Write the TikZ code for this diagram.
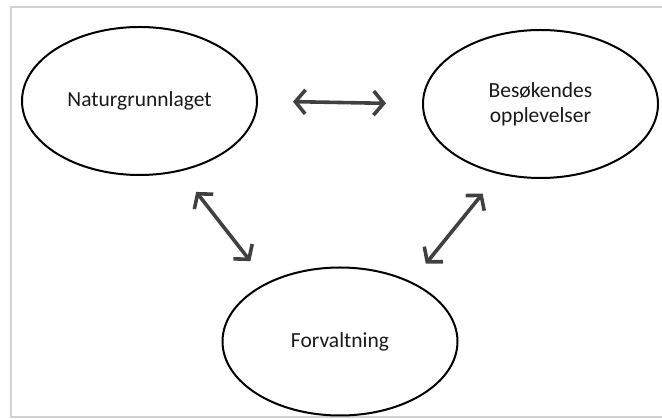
\documentclass[tikz,border=0pt]{standalone}
\usepackage{fontspec}
\setmainfont{Carlito}
\usetikzlibrary{arrows.meta, positioning, shapes.geometric, calc}

\tikzset{
  topic/.style={ellipse, draw, line width=2pt, minimum width=235pt, minimum height=148pt,
    inner sep=0pt, align=center, font=\fontsize{21.5}{25}\selectfont, text=black!90},
  link/.style={{Straight Barb[length=10pt,width=24pt]}-{Straight Barb[length=10pt,width=24pt]},
    line width=3.6pt, draw=black!75},
}

\begin{document}
\begin{tikzpicture}[x=1pt, y=-1pt]
				\useasboundingbox (0,0) rectangle (662,419);
				\draw[black!18, line width=2pt] (11,7) rectangle (664,417);
				
				% Nodes
				\node (nat) [topic] at (139.5,101) {Naturgrunnlaget};
				\node (bes) [topic, right=164pt of nat, yshift=-3pt] {Besøkendes\\opplevelser};
				\coordinate (mid) at ($(nat)!0.5!(bes)$);
				\node (forv) [topic, below=164pt of mid] {Forvaltning};
				
				% Arrows
				\draw[link, shorten <=35pt, shorten >=36pt] (nat.east) -- (bes.west);
				\draw[link, shorten <=26pt, shorten >=27pt] (nat.-60) -- (forv.141);
				\draw[link, shorten <=25pt, shorten >=23pt] (bes.239) -- (forv.40);
			\end{tikzpicture}
\end{document}
